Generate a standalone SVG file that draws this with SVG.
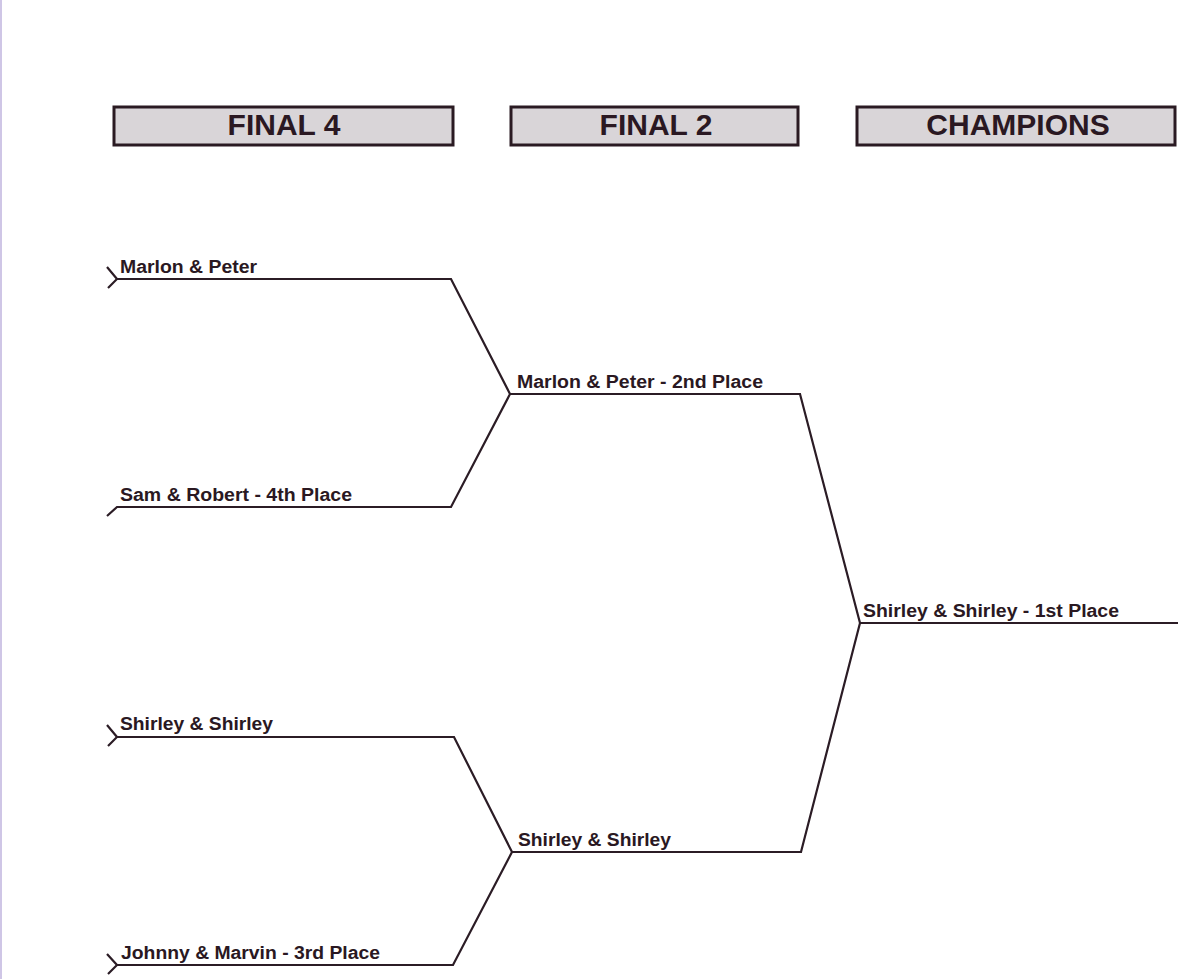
<svg xmlns="http://www.w3.org/2000/svg" width="1185" height="979" viewBox="0 0 1185 979">
<style>
.hdr{fill:#d9d5d8;stroke:#2a1a22;stroke-width:3}
.ht{font-family:"Liberation Sans",Arial,sans-serif;font-weight:bold;font-size:30px;fill:#2a1822;text-anchor:middle}
.lb{font-family:"Liberation Sans",Arial,sans-serif;font-weight:bold;font-size:18px;fill:#2a1822}
.ln{fill:none;stroke:#2b1c25;stroke-width:2.2;stroke-linejoin:miter}
</style>
<rect width="1185" height="979" fill="#ffffff"/>
<line x1="1" y1="0" x2="1" y2="979" stroke="#cfc6e6" stroke-width="2"/>
<g id="header-final4">
<rect class="hdr" x="114" y="107" width="339" height="38"/>
<text class="ht" x="284" y="135">FINAL 4</text>
</g>
<g id="header-final2">
<rect class="hdr" x="511" y="107" width="287" height="38"/>
<text class="ht" x="656" y="135">FINAL 2</text>
</g>
<g id="header-champions">
<rect class="hdr" x="857" y="107" width="318" height="38"/>
<text class="ht" x="1018" y="135">CHAMPIONS</text>
</g>
<g id="connectors">
<path class="ln" d="M107,267 L117,279 L108,288"/>
<path class="ln" d="M117,279 L451,279 L510,394 L451,507 L117,507 L107,516"/>
<path class="ln" d="M107,725 L117,737 L108,746"/>
<path class="ln" d="M117,737 L454,737 L512,852 L453,965 L117,965"/>
<path class="ln" d="M107,954 L117,965 L108,974"/>
<path class="ln" d="M510,394 L800,394 L860,623 L801,852 L512,852"/>
<path class="ln" d="M860,623 L1178,623"/>
</g>
<g id="team-marlon-peter">
<text class="lb" x="120" y="273" textLength="137" lengthAdjust="spacingAndGlyphs">Marlon &amp; Peter</text>
</g>
<g id="team-sam-robert">
<text class="lb" x="120" y="501" textLength="232" lengthAdjust="spacingAndGlyphs">Sam &amp; Robert - 4th Place</text>
</g>
<g id="team-shirley-shirley">
<text class="lb" x="120" y="730" textLength="153" lengthAdjust="spacingAndGlyphs">Shirley &amp; Shirley</text>
</g>
<g id="team-johnny-marvin">
<text class="lb" x="121" y="959" textLength="259" lengthAdjust="spacingAndGlyphs">Johnny &amp; Marvin - 3rd Place</text>
</g>
<g id="final2-marlon-peter">
<text class="lb" x="517" y="388" textLength="246" lengthAdjust="spacingAndGlyphs">Marlon &amp; Peter - 2nd Place</text>
</g>
<g id="final2-shirley-shirley">
<text class="lb" x="518" y="846" textLength="153" lengthAdjust="spacingAndGlyphs">Shirley &amp; Shirley</text>
</g>
<g id="champion">
<text class="lb" x="863" y="617" textLength="256" lengthAdjust="spacingAndGlyphs">Shirley &amp; Shirley - 1st Place</text>
</g>
</svg>
